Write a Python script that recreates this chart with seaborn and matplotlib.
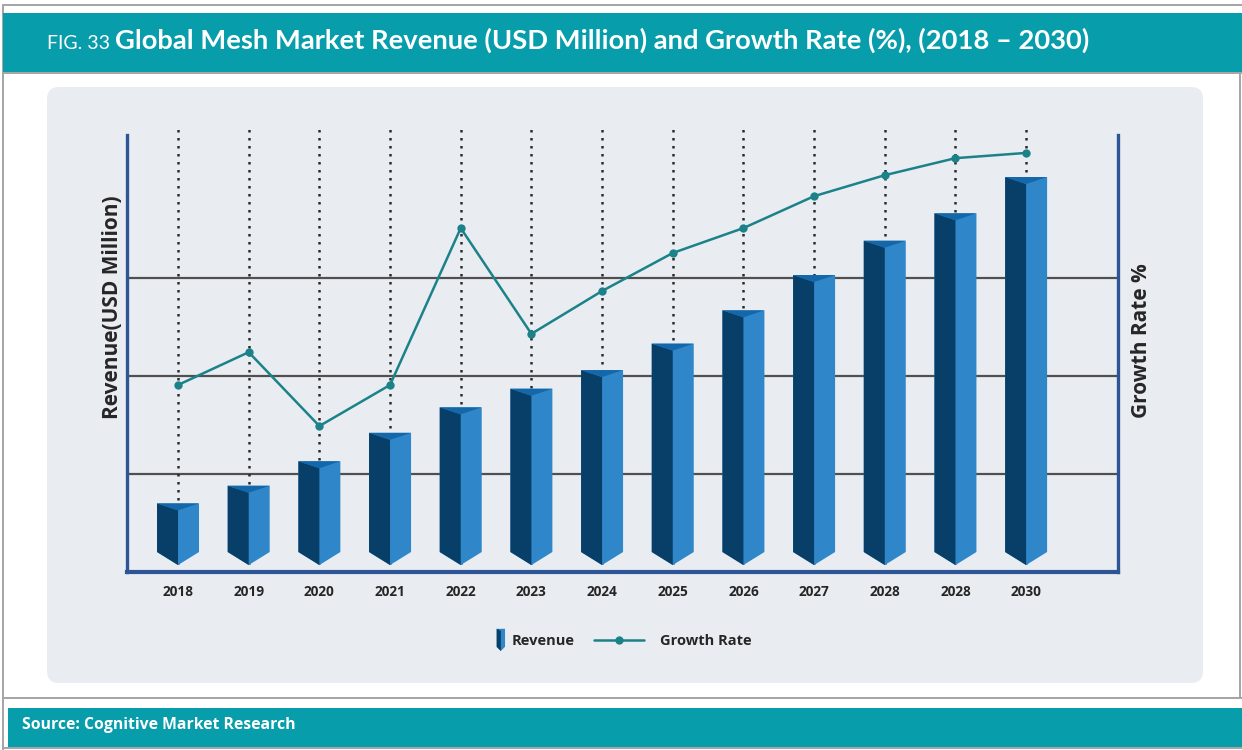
import numpy as np
import pandas as pd
import matplotlib
matplotlib.use("Agg")
import matplotlib.pyplot as plt
import seaborn as sns
from matplotlib.patches import Polygon, Rectangle, FancyBboxPatch
from matplotlib.transforms import IdentityTransform
from matplotlib.legend_handler import HandlerBase
from matplotlib.lines import Line2D

# ---------------- data (arbitrary units) ----------------
years = ["2018", "2019", "2020", "2021", "2022", "2023", "2024",
         "2025", "2026", "2027", "2028", "2028", "2030"]
revenue = [700, 880, 1130, 1420, 1680, 1870, 2060, 2330, 2670, 3030, 3380, 3660, 4030]
growth = [4.28, 5.03, 3.34, 4.28, 7.87, 5.45, 6.43, 7.30, 7.87, 8.60, 9.08, 9.47, 9.59]

title_prefix = "FIG. 33"
title_main = "Global Mesh Market Revenue (USD Million) and Growth Rate (%), (2018 \u2013 2030)"
source_text = "Source: Cognitive Market Research"

# ---------------- style ----------------
TEAL = "#089dab"
PANEL = "#e9edf1"
GRAYLINE = "#a6a6a6"
AXBLUE = "#2d5596"
DARK = "#083f68"
LIGHT = "#2f87ca"
TOPC = "#1467a8"
LINEC = "#1b8289"
TXT = "#262626"

sns.set_theme(style="white")
plt.rcParams['font.family'] = ['Open Sans', 'DejaVu Sans']

W, H = 1242, 750
fig = plt.figure(figsize=(W / 100, H / 100), dpi=100)
fig.patch.set_facecolor("white")
PX = IdentityTransform()


def rect(x0, y0, x1, y1, color, z=-5):
    fig.add_artist(Rectangle((x0, H - y1), x1 - x0, y1 - y0, transform=PX,
                             facecolor=color, edgecolor="none", zorder=z))


# frame / banners
rect(2, 4, W, 6, GRAYLINE)
rect(2, 4, 4, H, GRAYLINE)
rect(3, 13, W, 72, TEAL)
rect(3, 72, W, 74, GRAYLINE)
rect(1239, 74, 1241, 699, GRAYLINE)
rect(3, 697, W, 699, GRAYLINE)
rect(8, 708, W, 747, TEAL)
rect(3, 747, W, 749, GRAYLINE)

panel = FancyBboxPatch((47, H - 683), 1203 - 47, 683 - 87,
                       boxstyle="round,pad=0,rounding_size=12", transform=PX,
                       facecolor=PANEL, edgecolor="none", zorder=-4)
fig.add_artist(panel)

# ---------------- titles ----------------
renderer = fig.canvas.get_renderer()
t1 = fig.text(47 / W, (H - 49) / H, title_prefix, color="white", fontsize=14,
              family=["Lato", "DejaVu Sans"], va="baseline", ha="left")
bb1 = t1.get_window_extent(renderer)
t2 = fig.text((bb1.x1 + 5) / W, (H - 49) / H, title_main, color="white", fontsize=20,
              fontweight="bold", family=["Lato", "DejaVu Sans"], va="baseline", ha="left")
bb2 = t2.get_window_extent(renderer)
t2.set_fontsize(20 * (1090 - (bb1.x1 + 5)) / bb2.width)

ts = fig.text(22 / W, (H - 729) / H, source_text, color="white", fontsize=11,
              fontweight="bold", family=["Open Sans", "DejaVu Sans"], va="baseline", ha="left")
bbs = ts.get_window_extent(renderer)
ts.set_fontsize(11 * (293 - 22) / bbs.width)

# ---------------- axes ----------------
ax = fig.add_axes([127 / W, (H - 572) / H, (1118 - 127) / W, (572 - 135) / H])
ax.set_facecolor("none")

df = pd.DataFrame({"idx": np.arange(len(years)), "year": years,
                   "revenue": revenue, "growth": growth})

sns.barplot(data=df, x="idx", y="revenue", ax=ax, width=0.594, color=LIGHT,
            saturation=1, zorder=3)

YTOP = 4459
ax.set_ylim(0, YTOP)
ax.set_xlim(-0.722, 13.30)

tip = 71
edge = 204
d = 71
for p in list(ax.patches):
    x0, w, h = p.get_x(), p.get_width(), p.get_height()
    xc = x0 + w / 2
    p.set_visible(False)
    full = Polygon([(x0, h), (x0 + w, h), (x0 + w, edge), (xc, tip), (x0, edge)],
                   closed=True, facecolor=LIGHT, edgecolor="none", zorder=3)
    left = Polygon([(x0, h), (xc, h - d), (xc, tip), (x0, edge)], closed=True,
                   facecolor=DARK, edgecolor="none", zorder=3.1)
    top = Polygon([(x0, h), (x0 + w, h), (xc, h - d)], closed=True,
                  facecolor=TOPC, edgecolor="none", zorder=3.2)
    for poly in (full, left, top):
        ax.add_patch(poly)

# dotted guide lines
ax.vlines(df["idx"], 0, YTOP + 75, colors="#2b2b2b", linestyles=[(0, (1, 2.2))],
          linewidth=1.8, clip_on=False, zorder=1)

# grid lines
ax.set_yticks([1000, 2000, 3000])
ax.yaxis.grid(True, color="#505050", linewidth=1.6)
ax.xaxis.grid(False)
ax.set_axisbelow(True)
ax.tick_params(axis="y", left=False, labelleft=False, length=0)
ax.set_xticks(df["idx"])
ax.set_xticklabels(years, fontsize=9.8, fontweight="bold", color=TXT)
ax.tick_params(axis="x", length=0, pad=9)
ax.set_xlabel("")
ax.set_ylabel("Revenue(USD Million)", fontsize=15, fontweight="bold", color=TXT)
ax.yaxis.set_label_coords((123 - 127) / 991, (572 - 307) / 437)

for side in ("left", "right"):
    ax.spines[side].set_visible(True)
    ax.spines[side].set_color(AXBLUE)
    ax.spines[side].set_linewidth(2.4)
ax.spines["bottom"].set_color(AXBLUE)
ax.spines["bottom"].set_linewidth(3)
ax.spines["top"].set_visible(False)

# growth line
ax2 = ax.twinx()
sns.lineplot(data=df, x="idx", y="growth", ax=ax2, color=LINEC, linewidth=1.8,
             marker="o", markersize=6, markeredgewidth=0, zorder=5)
ax2.set_ylim(0, 10)
ax2.set_xlim(-0.722, 13.30)
for s in ax2.spines.values():
    s.set_visible(False)
ax2.set_yticks([])
ax2.set_xlabel("")
ax2.set_ylabel("Growth Rate %", fontsize=15, fontweight="bold", color=TXT, rotation=90)
ax2.yaxis.set_label_position("right")
ax2.yaxis.set_label_coords((1131 - 127) / 991, (572 - 341) / 437)


# ---------------- legend ----------------
class RevHandler(HandlerBase):
    def create_artists(self, legend, orig_handle, xdescent, ydescent, width, height,
                       fontsize, trans):
        bw = 6.0
        bh = 16.0
        x1 = width - xdescent + 6.5
        x0 = x1 - bw
        xc = (x0 + x1) / 2
        yc = height / 2 - ydescent
        ytop = yc + bh / 2
        ybot = yc - bh / 2
        arts = [
            Polygon([(x0, ytop), (x1, ytop), (x1, ybot + 3), (xc, ybot), (x0, ybot + 3)],
                    facecolor=LIGHT, edgecolor="none", transform=trans),
            Polygon([(x0, ytop), (xc, ytop - 1.5), (xc, ybot), (x0, ybot + 3)],
                    facecolor=DARK, edgecolor="none", transform=trans),
        ]
        return arts


FS = 10.5
fs_px = FS * 100 / 72
rev_handle = Rectangle((0, 0), 1, 1)
gr_handle = Line2D([], [], color=LINEC, linewidth=1.8, marker="o", markersize=6,
                   markeredgewidth=0)
leg = fig.legend([rev_handle, gr_handle], ["Revenue", "Growth Rate"],
                 handler_map={Rectangle: RevHandler()},
                 loc="center left", bbox_to_anchor=(446, H - 641),
                 bbox_transform=PX, ncol=2, frameon=False, handlelength=50 / fs_px,
                 handletextpad=16 / fs_px, columnspacing=19 / fs_px, borderpad=0,
                 borderaxespad=0,
                 prop={"family": ["Open Sans", "DejaVu Sans"], "weight": "bold", "size": FS})
for t in leg.get_texts():
    t.set_color(TXT)

fig.savefig("out.png", dpi=100, facecolor="white")
